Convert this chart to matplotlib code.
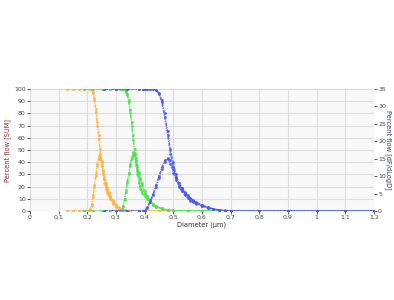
import matplotlib
matplotlib.use("Agg")
import matplotlib.pyplot as plt

# orange sample
orange_x = [0.13, 0.15, 0.17, 0.19, 0.205, 0.21, 0.215, 0.22, 0.225, 0.23, 0.235, 0.24, 0.245, 0.25,
            0.255, 0.26, 0.265, 0.27, 0.275, 0.28, 0.29, 0.30, 0.31, 0.32, 0.33, 0.35, 0.40, 0.45, 0.50]
orange_cum1 = [100, 100, 100, 100, 100, 100, 99.5, 97, 91, 81, 70, 59, 47, 38,
               30, 23, 18, 14.5, 12, 9.5, 6, 3.5, 1.8, 0.8, 0.3, 0, 0, 0, 0]
orange_cum2 = [100, 100, 100, 100, 100, 100, 99.8, 98, 93, 84, 73, 62, 51, 41,
               33, 26, 20.5, 16, 13, 10.5, 7, 4.2, 2.2, 1, 0.4, 0, 0, 0, 0]
orange_dif1 = [0, 0, 0, 0, 0, 0.5, 2, 4.5, 7.5, 10.5, 13.5, 15.8, 15.2, 13,
               11, 9.2, 7.6, 6.3, 5.1, 4.1, 2.7, 1.6, 0.9, 0.4, 0.15, 0, 0, 0, 0]
orange_dif2 = [0, 0, 0, 0, 0, 0.3, 1.5, 4, 7, 10, 13, 15, 15.5, 14,
               11.8, 9.8, 8, 6.6, 5.4, 4.4, 3, 1.8, 1, 0.5, 0.2, 0, 0, 0, 0]

# green sample
green_x = [0.19, 0.22, 0.25, 0.28, 0.30, 0.315, 0.32, 0.325, 0.33, 0.335, 0.34, 0.345, 0.35, 0.355,
           0.36, 0.365, 0.37, 0.375, 0.38, 0.385, 0.39, 0.40, 0.41, 0.42, 0.43, 0.44, 0.46, 0.48,
           0.50, 0.55, 0.60, 0.68]
green_cum1 = [100, 100, 100, 100, 100, 100, 100, 100, 99.5, 98, 95, 89, 80, 70,
              58, 47, 38, 30, 23, 18, 14.5, 12, 9.5, 7, 5, 3.5, 1.5, 0.6,
              0.2, 0, 0, 0]
green_cum2 = [100, 100, 100, 100, 100, 100, 100, 100, 99.8, 98.5, 96, 91, 83, 73,
              62, 51, 41, 33, 26, 20.5, 16.5, 13.5, 11, 8.5, 6, 4.2, 2, 0.9,
              0.3, 0, 0, 0]
green_dif1 = [0, 0, 0, 0, 0, 0, 0.3, 1.5, 3.5, 6, 8.5, 11, 13.5, 15.5,
              16.8, 16.2, 14.5, 12.5, 10.5, 8.8, 7.4, 5.2, 3.7, 2.6, 1.8, 1.2, 0.6, 0.3,
              0.1, 0, 0, 0]
green_dif2 = [0, 0, 0, 0, 0, 0, 0.2, 1, 3, 5.5, 8, 10.5, 13, 15,
              16.2, 16.6, 15.2, 13.3, 11.3, 9.5, 8, 5.8, 4.2, 3, 2.1, 1.4, 0.7, 0.35,
              0.15, 0.05, 0, 0]

# blue sample
blue_x = [0.26, 0.30, 0.34, 0.38, 0.395, 0.40, 0.41, 0.42, 0.43, 0.44, 0.45, 0.46, 0.47, 0.48,
          0.49, 0.50, 0.51, 0.52, 0.53, 0.54, 0.55, 0.56, 0.57, 0.58, 0.60, 0.62, 0.64, 0.66,
          0.68, 0.70, 0.80, 0.90, 1.0, 1.1, 1.2]
blue_cum1 = [100, 100, 100, 100, 100, 100, 100, 100, 100, 99, 96, 89, 77, 62,
             47, 36, 27, 20, 16, 13, 10.5, 8.5, 7, 5.8, 3.8, 2.3, 1.2, 0.6,
             0.2, 0, 0, 0, 0, 0, 0]
blue_cum2 = [100, 100, 100, 100, 100, 100, 100, 100, 100, 99.5, 97, 91, 80, 66,
             51, 40, 30, 23, 18.5, 15, 12, 10, 8.3, 6.8, 4.5, 2.8, 1.5, 0.8,
             0.3, 0, 0, 0, 0, 0, 0]
blue_dif1 = [0, 0, 0, 0, 0, 0, 1.2, 3, 5, 7.5, 10, 12.5, 14.5, 15,
             13.5, 11, 8.8, 7.2, 6, 5, 4.1, 3.4, 2.8, 2.3, 1.5, 0.9, 0.5, 0.25,
             0.1, 0, 0, 0, 0, 0, 0]
blue_dif2 = [0, 0, 0, 0, 0, 0, 0.8, 2.5, 4.5, 7, 9.5, 12, 14, 15.2,
             14.5, 12, 9.8, 8, 6.6, 5.5, 4.6, 3.8, 3.1, 2.6, 1.8, 1.1, 0.6, 0.3,
             0.12, 0.03, 0, 0, 0, 0, 0]

x_ticks = [0, 0.1, 0.2, 0.3, 0.4, 0.5, 0.6, 0.7, 0.8, 0.9, 1, 1.1, 1.2]
x_labels = ["0", "0,1", "0,2", "0,3", "0,4", "0,5", "0,6", "0,7", "0,8", "0,9", "1", "1,1", "1,2"]
left_ticks = list(range(0, 101, 10))
right_ticks = list(range(0, 36, 5))

series = [
    (orange_x, orange_cum1, orange_cum2, orange_dif1, orange_dif2, "#ffb445"),
    (green_x, green_cum1, green_cum2, green_dif1, green_dif2, "#4ee34e"),
    (blue_x, blue_cum1, blue_cum2, blue_dif1, blue_dif2, "#4858f2"),
]

fig = plt.figure(figsize=(3.94, 3.0), dpi=100)
ax = fig.add_axes([0.076, 0.297, 0.873, 0.406])
ax2 = ax.twinx()
ax.set_facecolor("#f8f8f8")

style = dict(linestyle=(0, (3, 1, 1, 1)), linewidth=0.8, marker="o", markersize=1.0,
             alpha=0.85)
for i, (x, c1, c2, d1, d2, col) in enumerate(series):
    for a, ys in ((ax, c1), (ax, c2), (ax2, d1), (ax2, d2)):
        a.plot(x, ys, color=col, zorder=3 + i, **style)

ax.set_xlim(0, 1.2)
ax.set_ylim(0, 100)
ax2.set_ylim(0, 35)
ax.set_xticks(x_ticks)
ax.set_xticklabels(x_labels)
ax.set_yticks(left_ticks)
ax2.set_yticks(right_ticks)
ax.grid(True, color="#dcdcdc", linewidth=0.8)
ax.set_axisbelow(True)

for a in (ax, ax2):
    for s in a.spines.values():
        s.set_visible(False)
    a.tick_params(labelsize=4.5, length=2, width=0.6, pad=1, colors="#444444")

ax.set_xlabel("Diameter (\u00b5m)", fontsize=4.8, color="#333333", labelpad=1)
ax.set_ylabel("Percent flow [SUM]", fontsize=4.8, color="#8b2a2a", labelpad=2)
ax2.set_ylabel("Percent flow [dF/dLogD]", fontsize=4.8, color="#2a3a8b", rotation=270, labelpad=4)

fig.savefig("out.png", dpi=100, facecolor="white")
